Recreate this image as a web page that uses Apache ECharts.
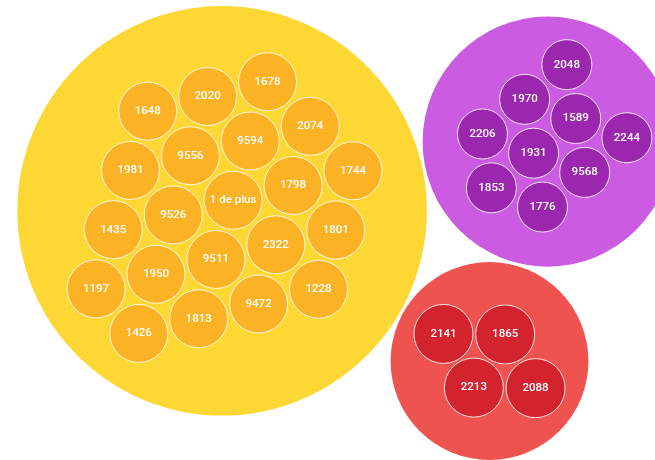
<!DOCTYPE html>
<html>
<head>
<meta charset="utf-8">
<script src="https://cdn.jsdelivr.net/npm/echarts@6/dist/echarts.min.js"></script>
<style>
html, body { margin: 0; padding: 0; background: #fff; }
#main { width: 655px; height: 460px; }
</style>
</head>
<body>
<div id="main"></div>
<script>
// étiquettes des bulles, par groupe
const groupNames = ['jaune', 'violet', 'rouge'];
const yellowLabels = ['1648', '2020', '1678', '1981', '9556', '9594', '2074', '1435', '9526', '1 de plus', '1798', '1744',
    '1197', '1950', '9511', '2322', '1801', '1426', '1813', '9472', '1228'];
const purpleLabels = ['2048', '1970', '1589', '2244', '2206', '1931', '9568', '1853', '1776'];
const redLabels = ['2141', '1865', '2213', '2088'];
const groupLabels = [yellowLabels, purpleLabels, redLabels];

// mise en page : grille hexagonale dans chaque groupe
const layout = [
    {fill: '#FDD835', child: '#FBB325', r: 29, step: 61.7, angle: -13.8, offset: [-2 / 7, 1 / 7], pad: 27.5},
    {fill: '#CB5BE0', child: '#9B27AF', r: 25, step: 54.6, angle: 20.6, offset: [1 / 3, -1 / 3], pad: 20.7},
    {fill: '#EF5350', child: '#D2232F', r: 29.5, step: 61.7, angle: 0.5, offset: [0.5, 0.5], pad: 16}
];
const parentGap = 3;
const secondAngle = -12; // direction du 2e groupe vu du 1er
const viewCenter = [345, 233];
const W = 655, H = 460;

function hexCells(n, cfg) {
    const t = cfg.angle * Math.PI / 180, t2 = t + Math.PI / 3;
    const u = [Math.cos(t) * cfg.step, Math.sin(t) * cfg.step];
    const v = [Math.cos(t2) * cfg.step, Math.sin(t2) * cfg.step];
    const pts = [];
    for (let j = -8; j <= 8; j++) {
        for (let i = -8; i <= 8; i++) {
            const di = i - cfg.offset[0], dj = j - cfg.offset[1];
            pts.push({i: i, j: j, d: di * di + dj * dj + di * dj});
        }
    }
    pts.sort((a, b) => a.d - b.d);
    const cells = pts.slice(0, n)
        .sort((a, b) => a.j - b.j || a.i - b.i)
        .map(p => [p.i * u[0] + p.j * v[0], p.i * u[1] + p.j * v[1]]);
    const mx = cells.reduce((s, c) => s + c[0], 0) / n;
    const my = cells.reduce((s, c) => s + c[1], 0) / n;
    return cells.map(c => [c[0] - mx, c[1] - my]);
}

const cells = groupLabels.map((labels, g) => hexCells(labels.length, layout[g]));
const radii = cells.map((cs, g) =>
    Math.max.apply(null, cs.map(c => Math.hypot(c[0], c[1]))) + layout[g].r + layout[g].pad);

// trois groupes tangents
const d01 = radii[0] + radii[1] + parentGap;
const d02 = radii[0] + radii[2] + parentGap;
const d12 = radii[1] + radii[2] + parentGap;
const a1 = secondAngle * Math.PI / 180;
const a2 = a1 + Math.acos((d01 * d01 + d02 * d02 - d12 * d12) / (2 * d01 * d02));
const centers = [[0, 0], [d01 * Math.cos(a1), d01 * Math.sin(a1)], [d02 * Math.cos(a2), d02 * Math.sin(a2)]];

const minX = Math.min.apply(null, centers.map((c, g) => c[0] - radii[g]));
const maxX = Math.max.apply(null, centers.map((c, g) => c[0] + radii[g]));
const minY = Math.min.apply(null, centers.map((c, g) => c[1] - radii[g]));
const maxY = Math.max.apply(null, centers.map((c, g) => c[1] + radii[g]));
const sx = viewCenter[0] - (minX + maxX) / 2, sy = viewCenter[1] - (minY + maxY) / 2;

const data = [];
groupLabels.forEach((labels, g) => {
    const cx = centers[g][0] + sx, cy = centers[g][1] + sy;
    data.push({name: groupNames[g], value: [cx, cy, radii[g], 0, g]});
    labels.forEach((lab, k) => {
        data.push({name: lab, value: [cx + cells[g][k][0], cy + cells[g][k][1], layout[g].r, 1, g]});
    });
});

function renderItem(params, api) {
    const p = api.coord([api.value(0), api.value(1)]);
    const r = api.size([api.value(2), 0])[0];
    const g = api.value(4);
    if (api.value(3) === 0) {
        return {type: 'circle', shape: {cx: p[0], cy: p[1], r: r}, style: {fill: layout[g].fill}};
    }
    return {
        type: 'circle',
        shape: {cx: p[0], cy: p[1], r: r},
        style: {fill: layout[g].child, stroke: 'rgba(255,255,255,0.85)', lineWidth: 1},
        textContent: {
            style: {text: data[params.dataIndex].name, fill: '#fff', font: '500 11.5px Roboto'}
        },
        textConfig: {position: 'inside'}
    };
}

const chart = echarts.init(document.getElementById('main'));
chart.setOption({
    animation: false,
    grid: {left: 0, right: 0, top: 0, bottom: 0},
    xAxis: {type: 'value', min: 0, max: W, show: false},
    yAxis: {type: 'value', min: 0, max: H, inverse: true, show: false},
    series: [{
        type: 'custom',
        renderItem: renderItem,
        silent: true,
        clip: false,
        data: data
    }]
});
</script>
</body>
</html>
